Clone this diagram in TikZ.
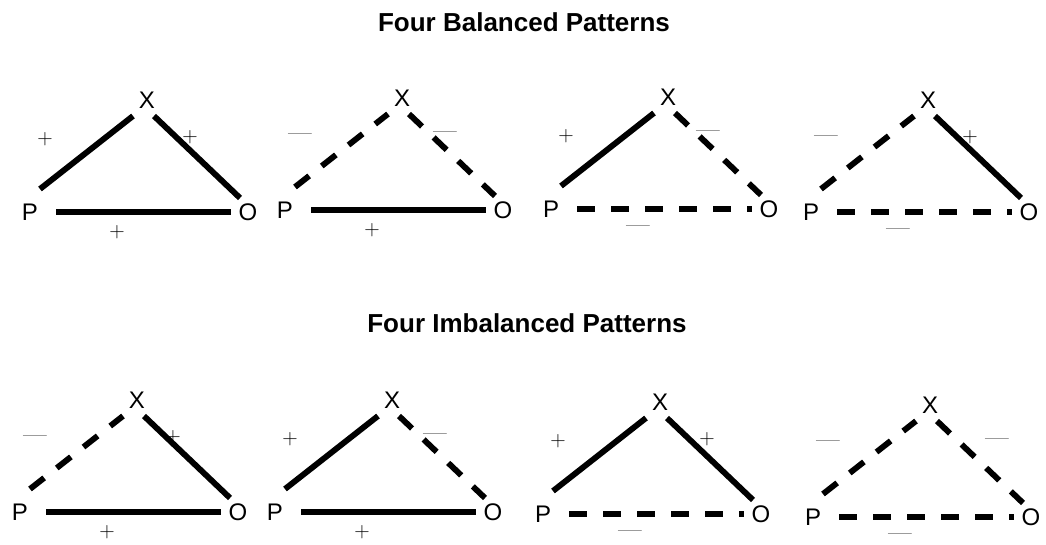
\documentclass[tikz,border=0pt]{standalone}
\usepackage{fontspec}
\newfontfamily\labelfont{Liberation Sans}
\usetikzlibrary{positioning}
\newcommand\plusmark{\fontsize{16}{16}\selectfont+}
\newcommand\minusmark{\fontsize{19}{19}\selectfont---}
\tikzset{
  heading/.style={font=\labelfont\bfseries\fontsize{19.5}{20}\selectfont},
  vertex/.style={font=\labelfont\fontsize{18}{18}\selectfont, inner sep=0pt},
  sign/.style={inner sep=0pt},
  plustie/.style={line width=4.4pt},
  minustie/.style={line width=4.4pt, dash pattern=on 13.5pt off 12pt}
}
\begin{document}
\begin{tikzpicture}[x=0.75pt,y=-0.75pt]
  \useasboundingbox (0,0) rectangle (1046,545);
  \node[heading] (balanced) at (524,22) {Four Balanced Patterns};
  \node[heading] (imbalanced) at (527,323) {Four Imbalanced Patterns};
  % one triangle per pattern: X on top, P left, O right
  \foreach \n/\x/\y/\sx/\pa/\pb/\pc in {
      1/147/100/43/plus/plus/plus, 2/402/98/43/minus/minus/plus,
      3/668/97/40/plus/minus/minus, 4/928/100/42/minus/plus/minus,
      5/137/400/36/minus/plus/plus, 6/392/400/43/plus/minus/plus,
      7/660/402/47/plus/plus/minus, 8/930/405/67/minus/minus/minus}{
    \node[vertex] (x\n) at (\x,\y) {X};
    \node[vertex] (p\n) at ([shift={(-117,112)}]x\n.center) {P};
    \node[vertex] (o\n) at ([shift={(101,112)}]x\n.center) {O};
    \draw[\pa tie] ([shift={(10,-23)}]p\n.center) -- ([shift={(-14,16)}]x\n.center);
    \draw[\pb tie] ([shift={(7,16)}]x\n.center) -- ([shift={(-8,-14)}]o\n.center);
    \draw[\pc tie] ([shift={(26,0)}]p\n.center) -- ([shift={(-17,0)}]o\n.center);
    \node[sign] (spx\n) at ([shift={(-102,39)}]x\n.center) {\csname\pa mark\endcsname};
    \node[sign] (sxo\n) at ([shift={(\sx,37)}]x\n.center) {\csname\pb mark\endcsname};
    \node[sign] (spo\n) at ([shift={(-30,132)}]x\n.center) {\csname\pc mark\endcsname};
  }
\end{tikzpicture}
\end{document}
